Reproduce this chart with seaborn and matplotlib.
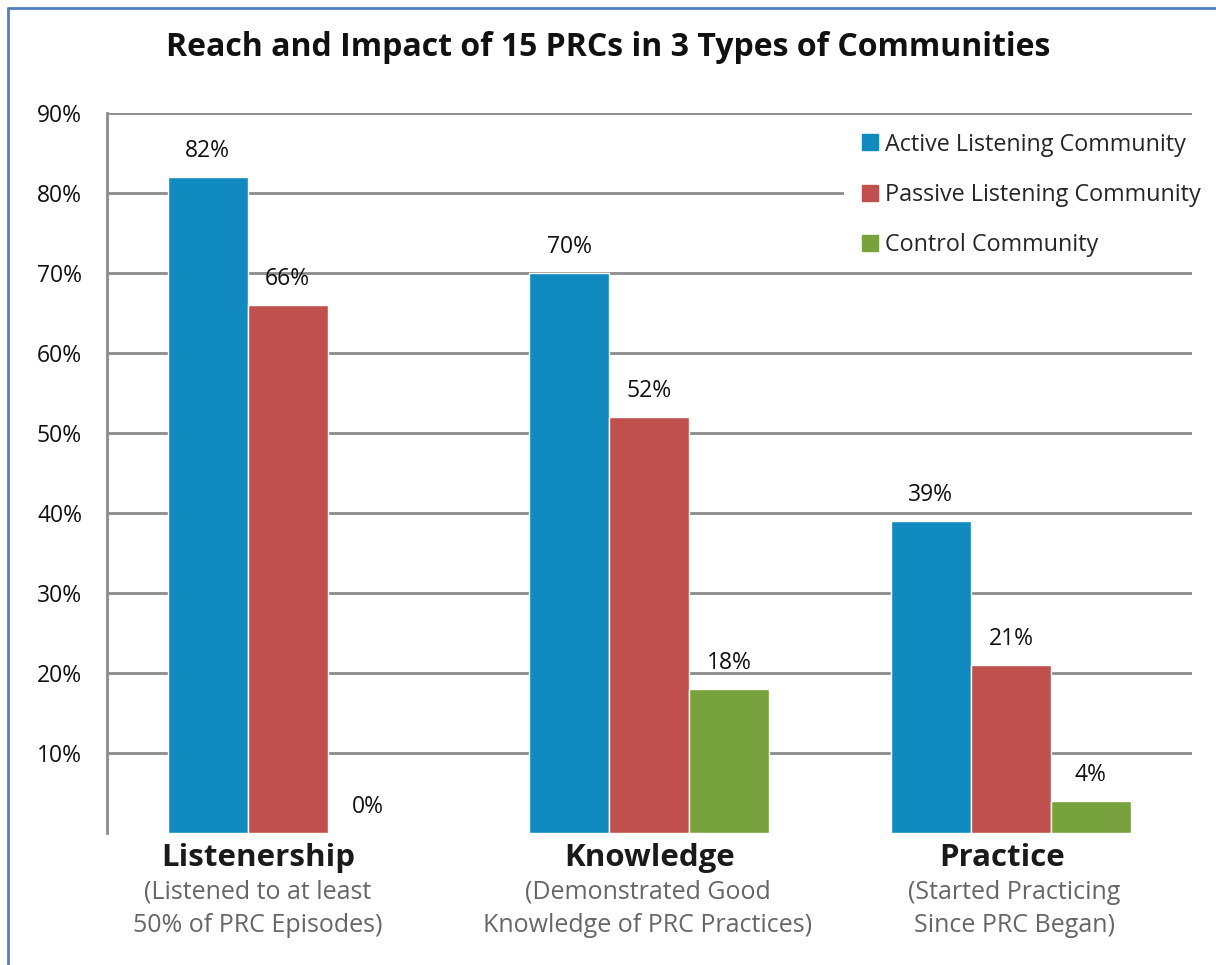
import matplotlib
matplotlib.use("Agg")
import matplotlib.pyplot as plt
import seaborn as sns
import pandas as pd
from matplotlib.lines import Line2D
from matplotlib.transforms import blended_transform_factory

categories = ["Listenership", "Knowledge", "Practice"]
subtitles = ["(Listened to at least\n50% of PRC Episodes)",
             "(Demonstrated Good\nKnowledge of PRC Practices)",
             "(Started Practicing\nSince PRC Began)"]
series = ["Active Listening Community", "Passive Listening Community", "Control Community"]
active = [82, 70, 39]
passive = [66, 52, 21]
control = [0, 18, 4]
colors = ["#118ABF", "#C0504D", "#78A23E"]
yticks = [10, 20, 30, 40, 50, 60, 70, 80, 90]

rows = []
for s, vals in zip(series, [active, passive, control]):
    for c, v in zip(categories, vals):
        rows.append({"cat": c, "series": s, "value": v})
df = pd.DataFrame(rows)

sns.set_theme(style="white")
plt.rcParams["font.family"] = ["Open Sans", "DejaVu Sans"]

fig = plt.figure(figsize=(12.16, 9.65), dpi=100)
ax = fig.add_axes([0.088, 0.1368, 0.892, 0.7461])

sns.barplot(data=df, x="cat", y="value", hue="series", order=categories,
            hue_order=series, palette=colors, width=0.664, saturation=1,
            ax=ax, legend=False, zorder=3)

ax.set_ylim(0, 90)
ax.set_xlim(-0.5, 2.5)
ax.set_yticks(yticks)
ax.set_yticklabels([f"{t}%" for t in yticks], fontsize=16.5, color="#111111")
ax.yaxis.grid(True, color="#8c8c8c", linewidth=2, zorder=0)
ax.set_axisbelow(True)
ax.tick_params(axis="y", length=0, pad=18)
ax.set_xticks([])
ax.set_xlabel("")
ax.set_ylabel("")
for side in ["top", "right", "bottom"]:
    ax.spines[side].set_visible(False)
ax.spines["left"].set_color("#8c8c8c")
ax.spines["left"].set_linewidth(2)

for cont in ax.containers:
    for bar in cont:
        h = bar.get_height()
        ax.text(bar.get_x() + bar.get_width() / 2, h + 3.3, f"{int(round(h))}%",
                ha="center", va="center", fontsize=16.5, color="#111111")

trans = blended_transform_factory(ax.transData, fig.transFigure)
title_x = [-0.083, 1.0, 1.977]
sub_x = [-0.083, 0.995, 2.01]
for i, (c, s) in enumerate(zip(categories, subtitles)):
    ax.text(title_x[i], 1 - 858 / 965, c, transform=trans, ha="center", va="center",
            fontsize=22.5, fontweight="bold", color="#1a1a1a")
    ax.text(sub_x[i], 1 - 909 / 965, s, transform=trans, ha="center", va="center",
            fontsize=18, color="#666666", linespacing=1.45)

handles = [Line2D([0], [0], marker="s", linestyle="none", markersize=12,
                  markerfacecolor=col, markeredgecolor=col) for col in colors]
leg = fig.legend(handles, series, loc="upper left",
                 bbox_to_anchor=(844 / 1216, 1 - 121 / 965),
                 frameon=True, fancybox=False, framealpha=1, facecolor="white",
                 edgecolor="white", fontsize=16.8, handletextpad=0.05, labelspacing=1.12,
                 borderaxespad=0, borderpad=0.5, handlelength=1.2)
leg.get_frame().set_linewidth(0)

fig.text(0.5, 1 - 47 / 965, "Reach and Impact of 15 PRCs in 3 Types of Communities",
         ha="center", va="center", fontsize=23, fontweight="bold", color="#111111")

# figure border (left and top)
fig.add_artist(Line2D([8 / 1216, 8 / 1216], [0, 1 - 8 / 965], color="#4F81BD", linewidth=2,
                      transform=fig.transFigure))
fig.add_artist(Line2D([8 / 1216, 1], [1 - 8 / 965, 1 - 8 / 965], color="#4F81BD", linewidth=2,
                      transform=fig.transFigure))

fig.savefig("out.png", dpi=100)
